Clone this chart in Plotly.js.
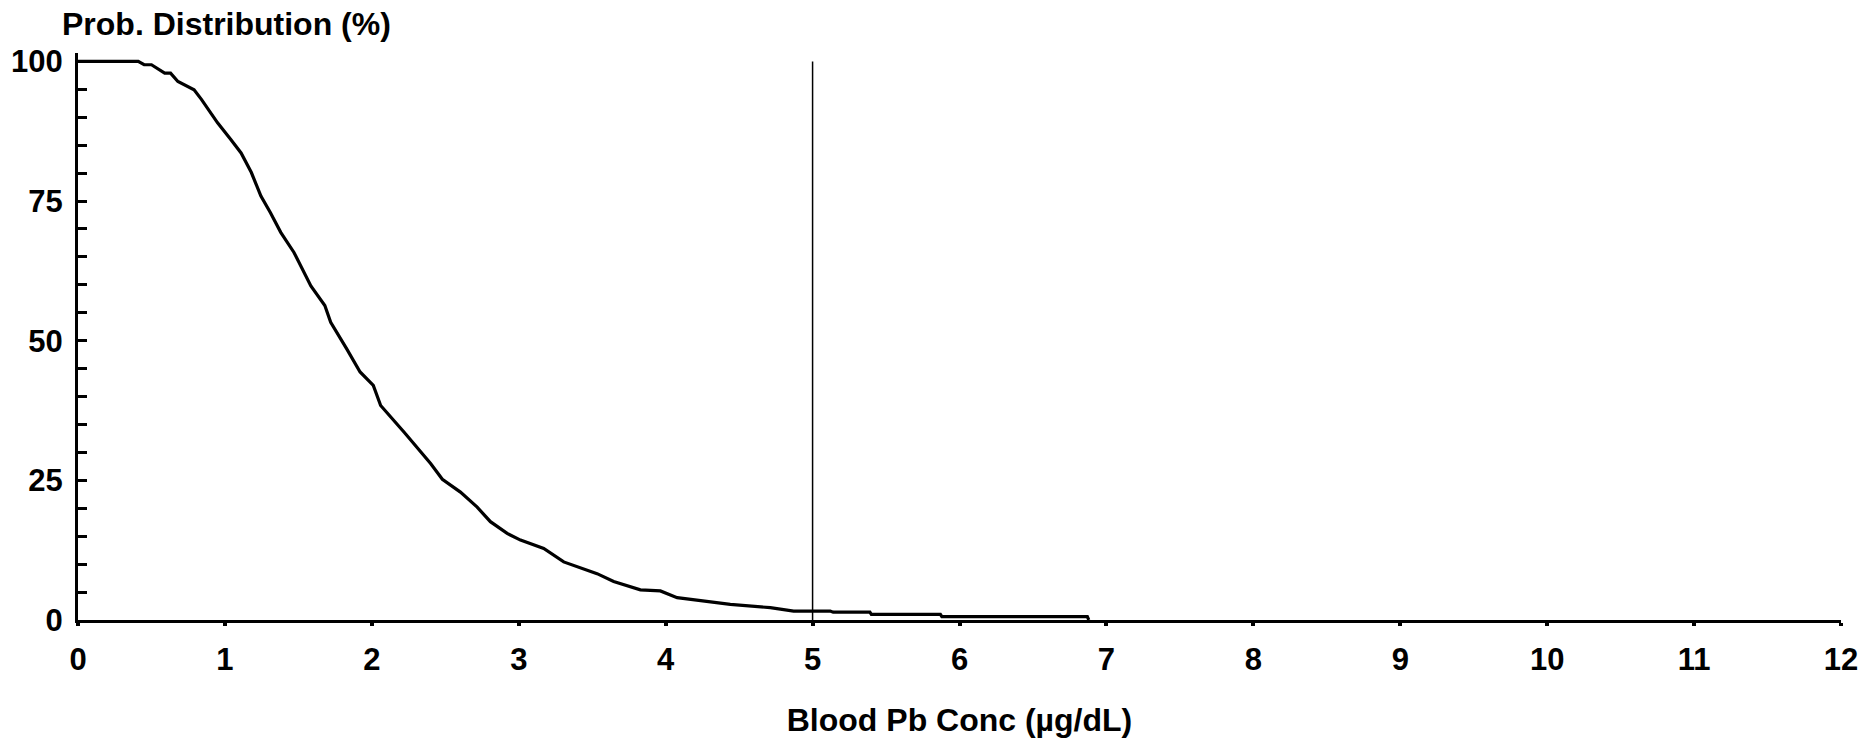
<!DOCTYPE html>
<html>
<head>
<meta charset="utf-8">
<script src="https://cdn.plot.ly/plotly-3.0.1.min.js"></script>
<style>
  html, body { margin: 0; padding: 0; background: #ffffff; }
  #chart { width: 1876px; height: 742px; }
</style>
</head>
<body>
<div id="chart"></div>
<script>
// Blood Pb concentration (µg/dL) and exceedance probability (%)
var concX = [0, 0.1, 0.2, 0.3, 0.41, 0.45, 0.50, 0.59, 0.63, 0.68, 0.79, 0.84, 0.95, 1.04, 1.11, 1.18, 1.245, 1.31, 1.38, 1.47, 1.585, 1.68, 1.72, 1.83, 1.92, 2.01, 2.06, 2.22, 2.33, 2.40, 2.48, 2.535, 2.603, 2.717, 2.807, 2.921, 3.012, 3.170, 3.306, 3.533, 3.646, 3.828, 3.964, 4.078, 4.19, 4.44, 4.712, 4.871, 5.12, 5.14, 5.39, 5.40, 5.87, 5.88, 6.87, 6.88];
var probY = [100, 100, 100, 100, 100, 99.4, 99.4, 97.9, 97.9, 96.4, 94.9, 93.2, 89.0, 86.0, 83.6, 80.1, 75.9, 72.9, 69.4, 65.8, 59.8, 56.3, 53.3, 48.5, 44.4, 42.0, 38.4, 33.6, 30.2, 28.0, 25.2, 24.1, 22.9, 20.2, 17.6, 15.5, 14.3, 12.8, 10.4, 8.3, 6.9, 5.4, 5.2, 4.0, 3.6, 2.8, 2.2, 1.6, 1.6, 1.4, 1.4, 1.0, 1.0, 0.6, 0.6, 0];

// Reference level marker
var refX = [5, 5];
var refY = [0, 100];

var xTickVals = [0, 1, 2, 3, 4, 5, 6, 7, 8, 9, 10, 11, 12];
var yTickVals = [0, 25, 50, 75, 100];

var titleText = "Prob. Distribution (%)";
var xTitleText = "Blood Pb Conc (µg/dL)";

var FONT = "Liberation Sans, Arial, sans-serif";

var traces = [
  {
    x: refX, y: refY, type: "scatter", mode: "lines",
    line: { color: "#000000", width: 1.5 },
    hoverinfo: "skip", showlegend: false
  },
  {
    x: concX, y: probY, type: "scatter", mode: "lines",
    line: { color: "#000000", width: 3.2 },
    showlegend: false
  }
];

var layout = {
  width: 1876, height: 742,
  paper_bgcolor: "#ffffff", plot_bgcolor: "#ffffff",
  margin: { l: 78, r: 35, t: 53, b: 122, pad: 0 },
  showlegend: false,
  title: {
    text: titleText,
    font: { family: FONT, size: 32, color: "#000000", weight: "bold" },
    x: 62 / 1876, xanchor: "left",
    y: 1 - 24 / 742, yanchor: "middle",
    xref: "container", yref: "container"
  },
  xaxis: {
    range: [0, 12],
    tickmode: "array", tickvals: xTickVals,
    ticks: "outside", ticklen: 3, tickwidth: 4, tickcolor: "#000000",
    ticklabelstandoff: 7,
    showline: true, linecolor: "#000000", linewidth: 3,
    showgrid: false, zeroline: false,
    tickfont: { family: FONT, size: 31, color: "#000000", weight: "bold" },
    title: {
      text: xTitleText,
      font: { family: FONT, size: 32, color: "#000000", weight: "bold" },
      standoff: 33
    },
    fixedrange: true
  },
  yaxis: {
    range: [0, 101.5],
    tickmode: "array", tickvals: yTickVals,
    ticks: "inside", ticklen: 9, tickwidth: 3, tickcolor: "#000000",
    ticklabelstandoff: 6,
    minor: { dtick: 5, tick0: 0, ticks: "inside", ticklen: 9, tickwidth: 3, tickcolor: "#000000", showgrid: false },
    showline: true, linecolor: "#000000", linewidth: 3,
    showgrid: false, zeroline: false,
    tickfont: { family: FONT, size: 31, color: "#000000", weight: "bold" },
    fixedrange: true
  }
};

Plotly.newPlot("chart", traces, layout, { displayModeBar: false, staticPlot: true });
</script>
</body>
</html>
